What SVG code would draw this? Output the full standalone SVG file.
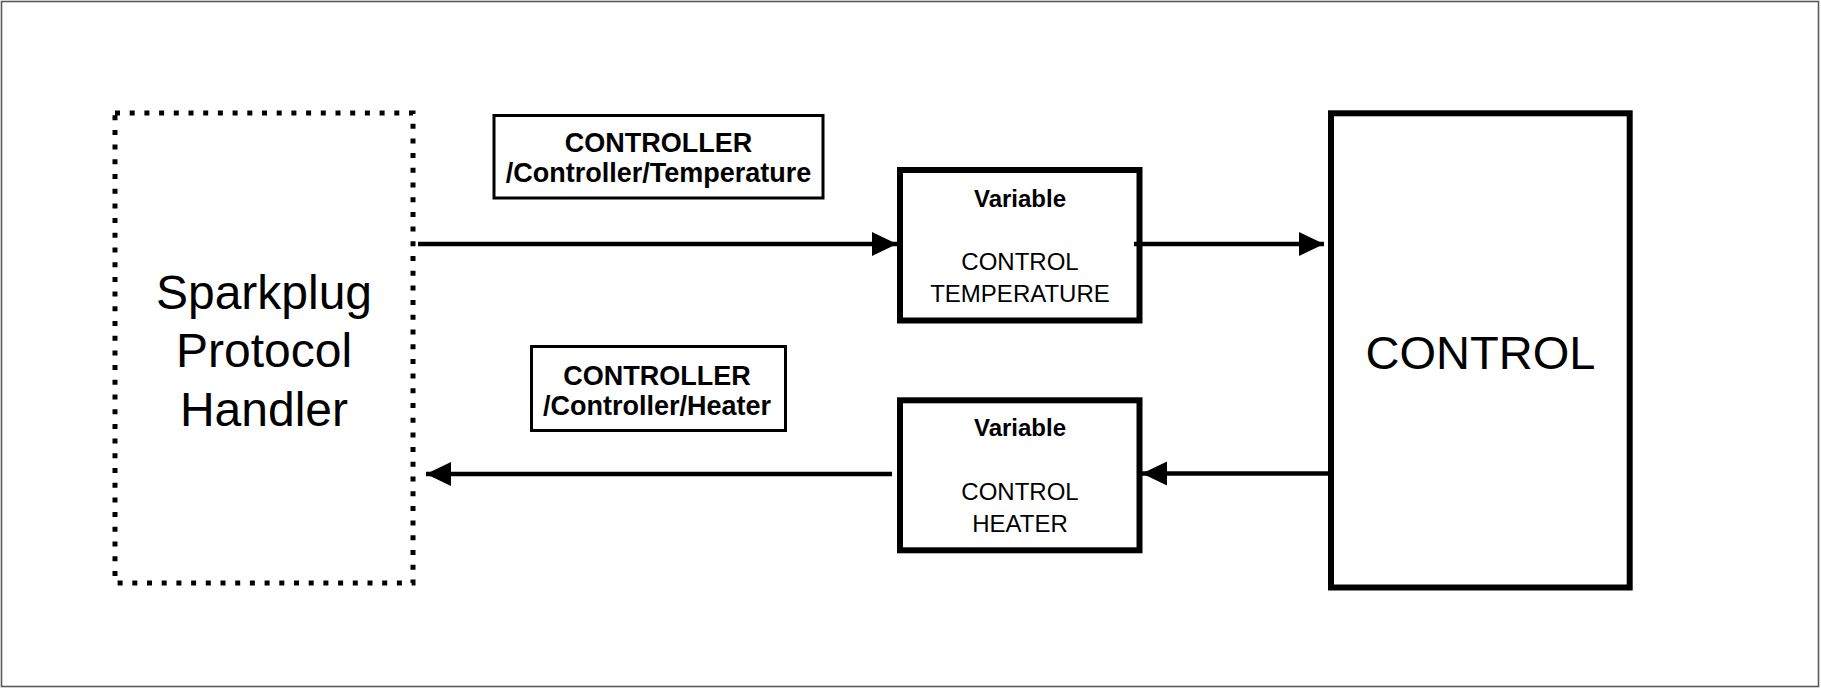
<svg xmlns="http://www.w3.org/2000/svg" width="1821" height="689" viewBox="0 0 1821 689">
<style>
.frame{fill:#fff;stroke:#5a5a5a;stroke-width:1.6}
.node{fill:#fff;stroke:#000;stroke-width:6}
.label{fill:#fff;stroke:#000;stroke-width:3}
.dotted{fill:#fff;stroke:#000;stroke-width:5;stroke-dasharray:5 9.7}
.conn{fill:none;stroke:#000;stroke-width:4.5;marker-end:url(#arrow)}
text{font-family:"Liberation Sans",Arial,Helvetica,sans-serif;fill:#000;text-anchor:middle}
.b{font-weight:bold}
</style>
<defs>
<marker id="arrow" markerUnits="userSpaceOnUse" markerWidth="26" markerHeight="26" refX="25" refY="12" orient="auto">
<path d="M0,0 L25,12 L0,24 z" fill="#000"/>
</marker>
</defs>
<rect class="frame" x="1.5" y="1.5" width="1817" height="685"/>
<g id="sparkplug">
<rect class="dotted" x="115" y="113" width="298" height="470"/>
<text x="264" y="309" font-size="48">Sparkplug</text>
<text x="264" y="367" font-size="48">Protocol</text>
<text x="264" y="426" font-size="48">Handler</text>
</g>
<g id="label-temperature">
<rect class="label" x="494" y="115.5" width="329" height="82.5"/>
<text class="b" x="658.5" y="152" font-size="27">CONTROLLER</text>
<text class="b" x="658.5" y="182" font-size="27">/Controller/Temperature</text>
</g>
<g id="label-heater">
<rect class="label" x="531.5" y="346.5" width="254" height="84"/>
<text class="b" x="657" y="384.5" font-size="27">CONTROLLER</text>
<text class="b" x="657" y="415" font-size="27">/Controller/Heater</text>
</g>
<g id="var-temperature">
<rect class="node" x="900" y="170" width="239.5" height="150.5"/>
<text class="b" x="1020" y="207" font-size="24">Variable</text>
<text x="1020" y="270" font-size="24">CONTROL</text>
<text x="1020" y="302" font-size="24">TEMPERATURE</text>
</g>
<g id="var-heater">
<rect class="node" x="900" y="400.3" width="239.5" height="150"/>
<text class="b" x="1020" y="436" font-size="24">Variable</text>
<text x="1020" y="500" font-size="24">CONTROL</text>
<text x="1020" y="532" font-size="24">HEATER</text>
</g>
<g id="control">
<rect class="node" x="1331" y="113.3" width="298.7" height="474.2"/>
<text x="1480.5" y="368.5" font-size="47">CONTROL</text>
</g>
<g id="connectors">
<line class="conn" x1="418" y1="244" x2="897" y2="244"/>
<line class="conn" x1="1134" y1="244" x2="1324" y2="244"/>
<line class="conn" x1="1331" y1="473.5" x2="1142" y2="473.5"/>
<line class="conn" x1="892" y1="474" x2="426" y2="474"/>
</g>
</svg>
